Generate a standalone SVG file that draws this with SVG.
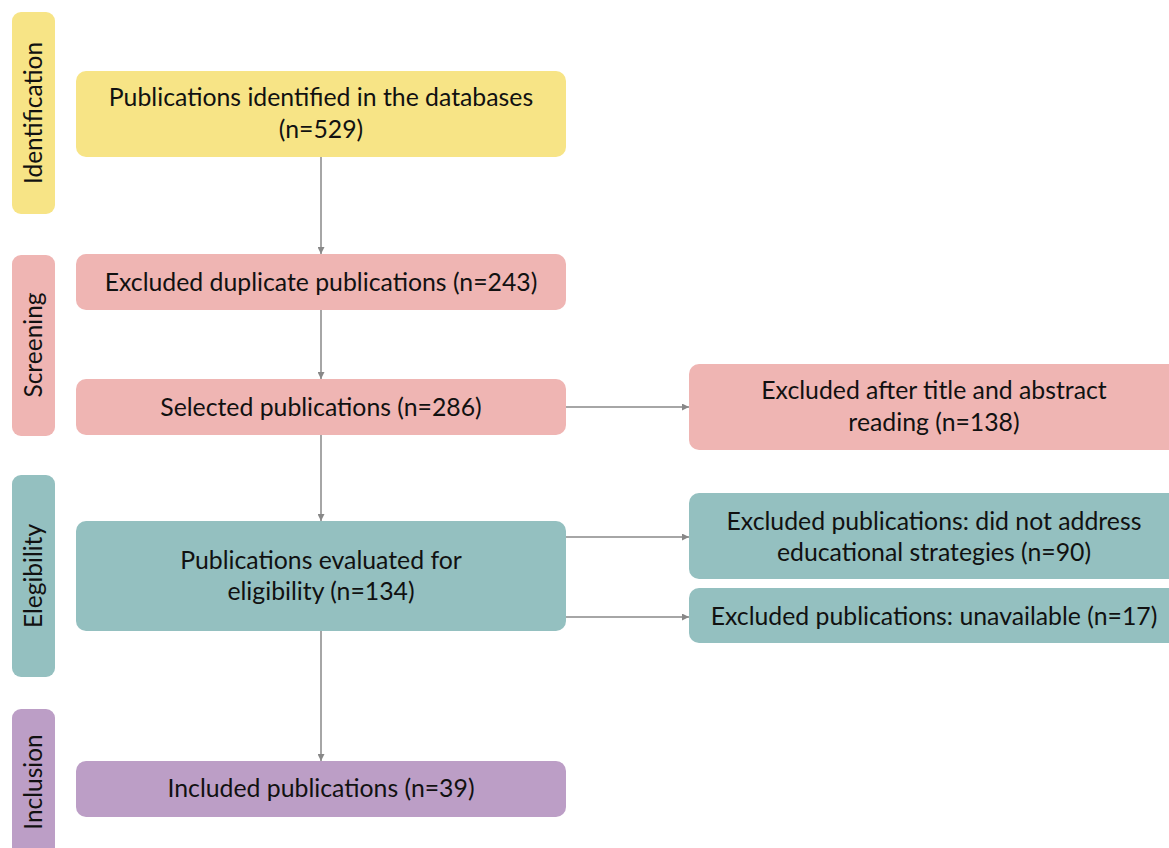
<svg xmlns="http://www.w3.org/2000/svg" width="1169" height="848" viewBox="0 0 1169 848">
<defs>
<style>
text{font-family:Lato,"Open Sans","Liberation Sans",sans-serif;fill:#111;}
.t{font-size:24.8px;text-anchor:middle;}
.p{font-size:24.5px;text-anchor:middle;}
.y{fill:#F7E486;}
.r{fill:#EFB5B3;}
.g{fill:#94C0C0;}
.v{fill:#BC9EC6;}
.c{stroke:#888;stroke-width:1.5;fill:none;marker-end:url(#a);}
</style>
<marker id="a" viewBox="0 0 10 10" refX="10" refY="5" markerWidth="7" markerHeight="7" markerUnits="userSpaceOnUse" orient="auto">
<path d="M0,0 L10,5 L0,10 z" fill="#888"/>
</marker>
</defs>
<rect width="1169" height="848" fill="#fff"/>
<g id="phase-identification"><rect class="y" x="12" y="12" width="43" height="202" rx="9"/><text class="p" transform="translate(42,113) rotate(-90)">Identification</text></g>
<g id="phase-screening"><rect class="r" x="12" y="255" width="43" height="181" rx="9"/><text class="p" transform="translate(42,345) rotate(-90)">Screening</text></g>
<g id="phase-elegibility"><rect class="g" x="12" y="475" width="43" height="202" rx="9"/><text class="p" transform="translate(42,576) rotate(-90)">Elegibility</text></g>
<g id="phase-inclusion"><rect class="v" x="12" y="709" width="43" height="160" rx="9"/><text class="p" transform="translate(42,782) rotate(-90)">Inclusion</text></g>
<g id="connectors">
<path class="c" d="M321,157 V254"/>
<path class="c" d="M321,310 V379"/>
<path class="c" d="M321,435 V521"/>
<path class="c" d="M321,631 V761"/>
<path class="c" d="M566,407 H689"/>
<path class="c" d="M566,537 H689"/>
<path class="c" d="M566,617 H689"/>
</g>
<g id="n1"><rect class="y" x="76" y="71" width="490" height="86" rx="10"/><text class="t" x="321" y="106">Publications identified in the databases</text><text class="t" x="321" y="138">(n=529)</text></g>
<g id="n2"><rect class="r" x="76" y="254" width="490" height="56" rx="10"/><text class="t" x="321" y="291">Excluded duplicate publications (n=243)</text></g>
<g id="n3"><rect class="r" x="76" y="379" width="490" height="56" rx="10"/><text class="t" x="321" y="416">Selected publications (n=286)</text></g>
<g id="n4"><rect class="g" x="76" y="521" width="490" height="110" rx="10"/><text class="t" x="321" y="569">Publications evaluated for</text><text class="t" x="321" y="600">eligibility (n=134)</text></g>
<g id="n5"><rect class="v" x="76" y="761" width="490" height="56" rx="10"/><text class="t" x="321" y="797">Included publications (n=39)</text></g>
<g id="n6"><rect class="r" x="689" y="364" width="500" height="86" rx="10"/><text class="t" x="934" y="399">Excluded after title and abstract</text><text class="t" x="934" y="431">reading (n=138)</text></g>
<g id="n7"><rect class="g" x="689" y="493" width="500" height="86" rx="10"/><text class="t" x="934" y="530">Excluded publications: did not address</text><text class="t" x="934" y="561">educational strategies (n=90)</text></g>
<g id="n8"><rect class="g" x="689" y="588" width="500" height="55" rx="10"/><text class="t" x="934" y="625">Excluded publications: unavailable (n=17)</text></g>
</svg>
